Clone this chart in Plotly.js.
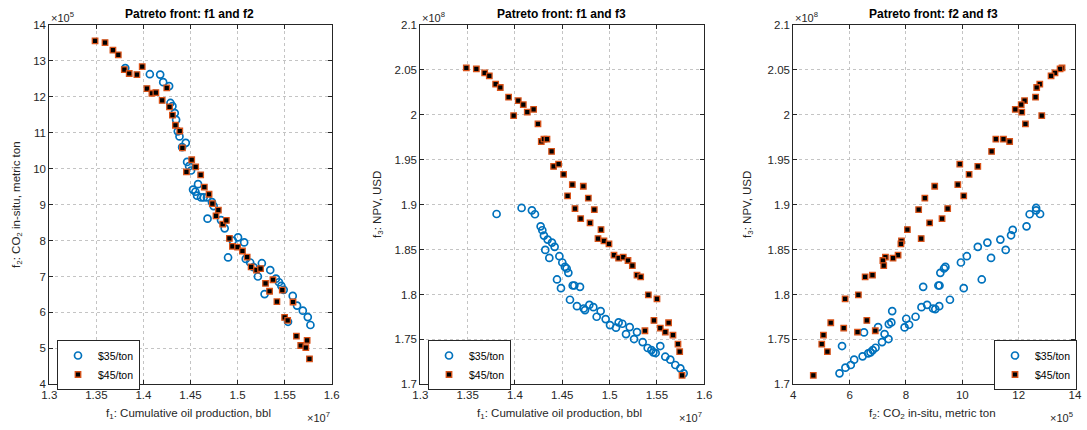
<!DOCTYPE html>
<html>
<head>
<meta charset="utf-8">
<script src="https://cdn.plot.ly/plotly-3.0.1.min.js"></script>
<style>
  html, body { margin: 0; padding: 0; background: #ffffff; }
  #chart { width: 1087px; height: 430px; }
</style>
</head>
<body>
<div id="chart"></div>
<script>
// ---------- Data (f1 in 1e7 bbl, f2 in 1e5 metric ton, f3 in 1e8 USD) ----------
const seriesNames = ["$35/ton", "$45/ton"];
const panelTitles = ["Patreto front: f1 and f2", "Patreto front: f1 and f3", "Patreto front: f2 and f3"];

// Panel 1: f1 vs f2
const p1_35_f1 = [1.3807,1.4068,1.4178,1.4210,1.4273,1.4287,1.4308,1.4333,1.4347,1.4365,1.4383,1.4450,1.4411,1.4464,1.4485,1.4506,1.4580,1.4527,1.4552,1.4570,1.4612,1.4640,1.4675,1.4728,1.4746,1.4681,1.4824,1.4863,1.4899,1.4949,1.5005,1.5070,1.5087,1.5134,1.5169,1.5216,1.5258,1.5287,1.5347,1.5408,1.5440,1.5465,1.5490,1.5536,1.5586,1.5632,1.5693,1.5746,1.5774];
const p1_35_f2 = [12.80,12.63,12.62,12.41,12.30,11.83,11.74,11.55,11.36,11.04,10.90,10.72,10.60,10.19,10.07,9.95,9.57,9.42,9.36,9.25,9.20,9.20,9.20,9.07,8.96,8.61,8.57,8.34,7.53,8.00,8.09,7.95,7.49,7.39,7.26,7.00,7.37,6.51,7.18,6.94,6.84,6.74,6.63,5.74,6.46,6.19,6.05,5.87,5.65];
const p1_45_f1 = [1.3486,1.3592,1.3676,1.3733,1.3797,1.3849,1.3987,1.3931,1.4037,1.4090,1.4132,1.4248,1.4199,1.4277,1.4308,1.4340,1.4386,1.4414,1.4513,1.4555,1.4457,1.4608,1.4647,1.4697,1.4732,1.4796,1.4771,1.4842,1.4881,1.4913,1.4945,1.5000,1.5052,1.5102,1.5144,1.5201,1.5244,1.5297,1.5340,1.5376,1.5418,1.5475,1.5500,1.5532,1.5589,1.5625,1.5671,1.5725,1.5739,1.5764];
const p1_45_f2 = [13.56,13.51,13.30,13.17,12.76,12.65,12.84,12.62,12.23,12.10,12.12,12.25,11.90,11.72,11.49,11.21,11.05,10.58,10.25,10.05,9.91,9.83,9.49,9.29,9.03,8.85,8.69,8.46,8.56,8.06,7.84,7.82,7.71,7.54,7.27,7.18,7.22,6.81,6.59,6.91,6.30,6.62,5.86,5.78,6.29,5.34,5.08,5.02,5.22,4.71];

// Panel 2: f1 vs f3
const p2_35_f1 = [1.3806,1.4070,1.4179,1.4211,1.4271,1.4289,1.4306,1.4345,1.4391,1.4419,1.4320,1.4363,1.4469,1.4500,1.4528,1.4546,1.4564,1.4444,1.4486,1.4610,1.4627,1.4687,1.4581,1.4655,1.4726,1.4740,1.4786,1.4828,1.4863,1.4905,1.4958,1.5004,1.5067,1.5095,1.5134,1.5173,1.5212,1.5258,1.5289,1.5349,1.5402,1.5441,1.5462,1.5486,1.5535,1.5588,1.5641,1.5694,1.5747,1.5782];
const p2_35_f3 = [1.8896,1.8963,1.8937,1.8893,1.8759,1.8715,1.8656,1.8611,1.8578,1.8530,1.8496,1.8407,1.8426,1.8356,1.8307,1.8289,1.8241,1.8167,1.8070,1.8100,1.8100,1.8085,1.7941,1.7870,1.7844,1.7826,1.7885,1.7859,1.7752,1.7815,1.7726,1.7659,1.7630,1.7689,1.7674,1.7559,1.7637,1.7504,1.7581,1.7470,1.7404,1.7381,1.7356,1.7348,1.7426,1.7307,1.7274,1.7215,1.7178,1.7122];
const p2_45_f1 = [1.3486,1.3592,1.3680,1.3729,1.3796,1.3845,1.3933,1.4035,1.4088,1.4130,1.4197,1.3986,1.4243,1.4278,1.4306,1.4338,1.4387,1.4408,1.4461,1.4514,1.4606,1.4722,1.4556,1.4775,1.4634,1.4838,1.4694,1.4793,1.4909,1.4877,1.4940,1.4993,1.5046,1.5095,1.5144,1.5194,1.5240,1.5289,1.5328,1.5409,1.5500,1.5373,1.5468,1.5535,1.5588,1.5623,1.5669,1.5722,1.5740,1.5765];
const p2_45_f3 = [2.0522,2.0511,2.0467,2.0434,2.0341,2.0304,2.0197,2.0157,2.0113,2.0031,2.0061,1.9991,1.9899,1.9703,1.9729,1.9729,1.9592,1.9426,1.9452,1.9338,1.9223,1.9205,1.9098,1.9072,1.8956,1.8944,1.8844,1.8796,1.8722,1.8622,1.8596,1.8563,1.8437,1.8404,1.8415,1.8378,1.8322,1.8215,1.8196,1.7996,1.7952,1.7596,1.7711,1.7626,1.7581,1.7685,1.7548,1.7448,1.7363,1.7100];

// Panel 3: f2 vs f3
const p3_35_f2 = [12.62,12.62,12.39,12.76,12.28,11.79,11.73,11.35,10.89,10.55,11.54,11.02,10.16,9.95,9.40,9.35,9.22,10.69,10.05,9.15,9.19,8.61,9.56,9.18,8.96,9.04,8.75,8.55,8.34,8.01,8.11,7.95,7.51,7.48,7.39,7.24,7.38,7.01,6.51,7.15,6.92,6.82,6.74,6.66,6.46,6.16,5.73,6.04,5.85,5.64];
const p3_35_f3 = [1.8963,1.8937,1.8893,1.8896,1.8759,1.8719,1.8659,1.8611,1.8578,1.8530,1.8496,1.8407,1.8426,1.8356,1.8307,1.8289,1.8241,1.8167,1.8070,1.8100,1.8100,1.8085,1.7941,1.7870,1.7844,1.7837,1.7885,1.7859,1.7752,1.7730,1.7663,1.7633,1.7815,1.7689,1.7670,1.7559,1.7504,1.7637,1.7578,1.7470,1.7407,1.7381,1.7356,1.7344,1.7311,1.7274,1.7426,1.7215,1.7185,1.7122];
const p3_45_f2 = [13.54,13.47,13.29,13.15,12.75,12.64,12.60,12.21,12.09,11.88,12.11,12.82,12.24,11.19,11.46,11.68,11.04,10.55,9.91,10.24,9.02,9.84,10.05,8.67,8.45,9.48,8.84,9.28,8.05,8.54,7.84,7.82,7.72,7.54,7.27,7.18,7.21,6.81,6.55,6.31,5.84,6.61,6.28,6.91,5.79,5.33,5.07,5.01,5.21,4.71];
const p3_45_f3 = [2.0522,2.0511,2.0467,2.0434,2.0341,2.0304,2.0197,2.0157,2.0113,2.0061,2.0031,1.9991,1.9899,1.9729,1.9729,1.9703,1.9592,1.9426,1.9452,1.9338,1.9205,1.9223,1.9098,1.9072,1.8944,1.8956,1.8796,1.8844,1.8722,1.8622,1.8596,1.8563,1.8437,1.8404,1.8415,1.8378,1.8322,1.8215,1.8196,1.7996,1.7952,1.7711,1.7581,1.7596,1.7626,1.7685,1.7548,1.7448,1.7363,1.7100];

// Tick labels
const f1Ticks = [1.3, 1.35, 1.4, 1.45, 1.5, 1.55, 1.6];
const f1TickText = ["1.3", "1.35", "1.4", "1.45", "1.5", "1.55", "1.6"];
const f2Ticks = [4, 5, 6, 7, 8, 9, 10, 11, 12, 13, 14];
const f2TickText = ["4", "5", "6", "7", "8", "9", "10", "11", "12", "13", "14"];
const f2Ticks3 = [4, 6, 8, 10, 12, 14];
const f2TickText3 = ["4", "6", "8", "10", "12", "14"];
const f3Ticks = [1.7, 1.75, 1.8, 1.85, 1.9, 1.95, 2.0, 2.05, 2.1];
const f3TickText = ["1.7", "1.75", "1.8", "1.85", "1.9", "1.95", "2", "2.05", "2.1"];

// ---------- Styling ----------
const FONT = "Liberation Sans, Arial, Helvetica, sans-serif";
const TXT = "#262626";
const BLUE = "#0072BD";
const ORANGE = "#D95319";

const m35 = { symbol: "circle-open", size: 7, color: BLUE, line: { color: BLUE, width: 1.7 } };
const m45 = { symbol: "square", size: 5.5, color: "#000000", line: { color: ORANGE, width: 1.3 } };

function tr(x, y, s, xa, ya, lg) {
  return {
    type: "scatter", mode: "markers", x: x, y: y,
    name: seriesNames[s], xaxis: xa, yaxis: ya, legend: lg,
    marker: s === 0 ? m35 : m45, hoverinfo: "x+y"
  };
}

const data = [
  tr(p1_35_f1, p1_35_f2, 0, "x", "y", "legend"),
  tr(p1_45_f1, p1_45_f2, 1, "x", "y", "legend"),
  tr(p2_35_f1, p2_35_f3, 0, "x2", "y2", "legend2"),
  tr(p2_45_f1, p2_45_f3, 1, "x2", "y2", "legend2"),
  tr(p3_35_f2, p3_35_f3, 0, "x3", "y3", "legend3"),
  tr(p3_45_f2, p3_45_f3, 1, "x3", "y3", "legend3")
];

function ax(domain, range, tv, tt, anchor) {
  return {
    domain: domain, range: range, anchor: anchor,
    tickvals: tv, ticktext: tt,
    showline: true, linecolor: TXT, linewidth: 1, mirror: "ticks",
    ticks: "inside", ticklen: 4, tickcolor: TXT, tickwidth: 1,
    showgrid: true, gridcolor: "#c4c4c4", griddash: "dot", gridwidth: 1,
    zeroline: false, fixedrange: true,
    tickfont: { family: FONT, size: 11.5, color: TXT }
  };
}

const W = 1087, H = 430;
const X1 = [49.3 / W, 331.7 / W], X2 = [420.3 / W, 704.3 / W], X3 = [793.3 / W, 1075 / W];
const YD = [(H - 384.3) / H, (H - 25) / H];

function ann(text, x, y, opts) {
  return Object.assign({
    text: text, xref: "paper", yref: "paper", x: x / W, y: (H - y) / H,
    showarrow: false, xanchor: "center", yanchor: "middle",
    font: { family: FONT, size: 11.5, color: TXT }
  }, opts || {});
}

const TF = { family: FONT, size: 12, color: "#000" };
const EF = { family: FONT, size: 11, color: TXT };

const annotations = [
  ann("<b>" + panelTitles[0] + "</b>", 189, 14, { font: TF }),
  ann("<b>" + panelTitles[1] + "</b>", 561, 14, { font: TF }),
  ann("<b>" + panelTitles[2] + "</b>", 933, 14, { font: TF }),
  // axis titles
  ann("f<sub>1</sub>: Cumulative oil production, bbl", 188, 414),
  ann("f<sub>1</sub>: Cumulative oil production, bbl", 559, 414),
  ann("f<sub>2</sub>: CO<sub>2</sub> in-situ, metric ton", 932, 414),
  ann("f<sub>2</sub>: CO<sub>2</sub> in-situ, metric ton", 17, 205, { textangle: -90 }),
  ann("f<sub>3</sub>: NPV, USD", 378, 205, { textangle: -90 }),
  ann("f<sub>3</sub>: NPV, USD", 748, 205, { textangle: -90 }),
  // exponent labels
  ann("×10<sup>5</sup>", 49, 17, { xanchor: "left", font: EF }),
  ann("×10<sup>7</sup>", 332, 417, { xanchor: "right", font: EF }),
  ann("×10<sup>8</sup>", 420, 17, { xanchor: "left", font: EF }),
  ann("×10<sup>7</sup>", 704, 417, { xanchor: "right", font: EF }),
  ann("×10<sup>8</sup>", 793, 17, { xanchor: "left", font: EF }),
  ann("×10<sup>5</sup>", 1075, 417, { xanchor: "right", font: EF })
];

function lg(x, y) {
  return {
    x: x / W, y: (H - y) / H, xref: "paper", yref: "paper",
    xanchor: "left", yanchor: "top",
    bgcolor: "#ffffff", bordercolor: TXT, borderwidth: 1,
    font: { family: FONT, size: 10.5, color: "#000" },
    itemwidth: 30, tracegroupgap: 0
  };
}

const layout = {
  width: W, height: H,
  margin: { l: 0, r: 0, t: 0, b: 0 },
  paper_bgcolor: "#ffffff", plot_bgcolor: "#ffffff",
  showlegend: true,
  xaxis: ax(X1, [1.3, 1.6], f1Ticks, f1TickText, "y"),
  yaxis: ax(YD, [4, 14], f2Ticks, f2TickText, "x"),
  xaxis2: ax(X2, [1.3, 1.6], f1Ticks, f1TickText, "y2"),
  yaxis2: ax(YD, [1.7, 2.1], f3Ticks, f3TickText, "x2"),
  xaxis3: ax(X3, [4, 14], f2Ticks3, f2TickText3, "y3"),
  yaxis3: ax(YD, [1.7, 2.1], f3Ticks, f3TickText, "x3"),
  legend: lg(57, 340),
  legend2: lg(428, 340),
  legend3: lg(994, 340),
  annotations: annotations
};

Plotly.newPlot("chart", data, layout, { staticPlot: true, displayModeBar: false });
</script>
</body>
</html>
